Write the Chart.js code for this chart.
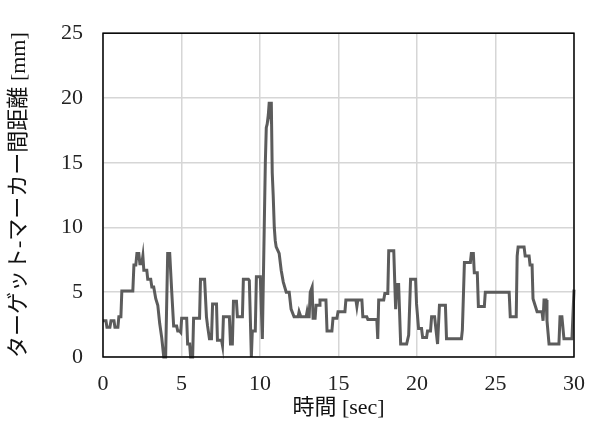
<!DOCTYPE html>
<html>
<head>
<meta charset="utf-8">
<script src="https://cdn.jsdelivr.net/npm/chart.js@4/dist/chart.umd.min.js"></script>
<style>
  html, body { margin: 0; padding: 0; background: #fff; }
  #wrap { width: 599px; height: 423px; }
</style>
</head>
<body>
<div id="wrap"><canvas id="chart" width="599" height="423"></canvas></div>
<script>
// time [sec] and distance [mm], in rows of ten
var times = [
  0, 0.19, 0.25, 0.44, 0.51, 0.70, 0.76, 0.95, 1.01, 1.14,
  1.20, 1.90, 1.97, 2.09, 2.16, 2.28, 2.35, 2.47, 2.54, 2.60,
  2.79, 2.85, 3.04, 3.11, 3.23, 3.36, 3.49, 3.61, 3.74, 3.87,
  3.99, 4.12, 4.25, 4.38, 4.50, 4.69, 4.76, 4.88, 4.95, 5.01,
  5.33, 5.39, 5.52, 5.58, 5.71, 5.77, 6.15, 6.21, 6.47, 6.59,
  6.66, 6.78, 6.91, 6.98, 7.23, 7.29, 7.55, 7.61, 7.67, 8.05,
  8.12, 8.24, 8.31, 8.50, 8.56, 8.88, 8.94, 9.26, 9.32, 9.45,
  9.51, 9.70, 9.77, 10.02, 10.15, 10.27, 10.34, 10.40, 10.46, 10.53,
  10.59, 10.65, 10.72, 10.78, 10.84, 10.91, 10.97, 11.03, 11.22, 11.35,
  11.48, 11.67, 11.86, 11.98, 12.17, 12.43, 12.49, 12.60, 12.94, 13.00,
  13.06, 13.13, 13.20, 13.32, 13.38, 13.51, 13.57, 13.76, 13.82, 14.20,
  14.27, 14.58, 14.65, 14.90, 14.97, 15.41, 15.47, 16.11, 16.17, 16.23,
  16.49, 16.55, 16.80, 16.87, 17.44, 17.50, 17.56, 17.88, 17.95, 18.14,
  18.20, 18.52, 18.58, 18.64, 18.71, 18.83, 18.96, 19.34, 19.47, 19.59,
  19.91, 19.97, 20.10, 20.29, 20.36, 20.61, 20.67, 20.86, 20.93, 21.12,
  21.31, 21.43, 21.81, 21.88, 22.83, 22.89, 23.02, 23.40, 23.46, 23.59,
  23.65, 23.84, 23.91, 24.29, 24.35, 25.87, 25.94, 26.32, 26.38, 26.44,
  26.82, 26.89, 27.14, 27.20, 27.33, 27.39, 27.52, 27.65, 27.96, 28.03,
  28.09, 28.22, 28.28, 28.41, 29.04, 29.11, 29.23, 29.36, 29.87, 30.0
];
var distances = [
  2.8, 2.8, 2.3, 2.3, 2.8, 2.8, 2.3, 2.3, 3.1, 3.1,
  5.1, 5.1, 7.1, 7.1, 8.0, 8.0, 7.2, 7.2, 7.8, 6.7,
  6.7, 6.0, 6.0, 5.4, 5.4, 4.5, 4.0, 2.6, 1.5, 0,
  0, 8.0, 8.0, 5.0, 2.4, 2.4, 2.0, 2.0, 1.9, 3.0,
  3.0, 1.0, 1.0, 0, 0, 3.0, 3.0, 6.0, 6.0, 3.1,
  2.4, 1.4, 1.4, 4.1, 4.1, 1.3, 1.3, 0.9, 3.1, 3.1,
  1.0, 1.0, 4.3, 4.3, 3.1, 3.1, 6.0, 6.0, 5.9, 0,
  2.0, 2.0, 6.2, 6.2, 1.4, 10.0, 15.0, 17.7, 18.0, 18.7,
  19.7, 19.0, 19.7, 14.2, 12.5, 10.0, 9.0, 8.5, 8.0, 6.7,
  5.8, 5.0, 5.0, 3.7, 3.1, 3.1, 3.5, 3.1, 3.1, 3.5,
  3.1, 3.1, 5.0, 5.4, 3.0, 3.0, 4.0, 4.0, 4.4, 4.4,
  2.0, 2.0, 3.0, 3.0, 3.5, 3.5, 4.4, 4.4, 3.9, 4.4,
  4.4, 3.1, 3.1, 2.9, 2.9, 1.4, 4.4, 4.4, 4.9, 4.9,
  8.2, 8.2, 5.9, 3.7, 5.6, 5.6, 1.0, 1.0, 1.7, 6.0,
  6.0, 4.1, 2.2, 2.2, 1.5, 1.5, 2.0, 2.0, 3.1, 3.1,
  1.0, 4.0, 4.0, 1.4, 1.4, 2.1, 7.3, 7.3, 8.0, 8.0,
  6.5, 6.5, 3.9, 3.9, 5.0, 5.0, 3.1, 3.1, 7.8, 8.5,
  8.5, 7.8, 7.8, 7.1, 7.1, 4.5, 4.0, 3.5, 3.5, 2.8,
  4.4, 4.4, 2.8, 1.0, 1.0, 3.1, 3.1, 1.4, 1.4, 5.2
];

var xTitle = '時間 [sec]';
var yTitle = 'ターゲット-マーカー間距離 [mm]';

var points = [];
for (var i = 0; i < times.length; i++) {
  points.push({ x: times[i], y: distances[i] });
}

var fontFamily = "'Liberation Serif', 'Noto Sans CJK JP', serif";

// full black frame round the plot area
var frame = {
  id: 'frame',
  afterDraw: function(chart) {
    var a = chart.chartArea;
    var ctx = chart.ctx;
    ctx.save();
    ctx.strokeStyle = '#000';
    ctx.lineWidth = 1.5;
    ctx.strokeRect(a.left, a.top, a.right - a.left, a.bottom - a.top);
    ctx.restore();
  }
};

var ctx = document.getElementById('chart').getContext('2d');
var chart = new Chart(ctx, {
  type: 'line',
  data: {
    datasets: [{
      data: points,
      borderColor: '#5c5c5c',
      borderWidth: 3,
      pointRadius: 0,
      tension: 0,
      fill: false,
      clip: false
    }]
  },
  options: {
    responsive: false,
    animation: false,
    layout: { padding: { left: 6, right: 23, top: 23, bottom: 2 } },
    plugins: {
      legend: { display: false },
      tooltip: { enabled: false }
    },
    scales: {
      x: {
        type: 'linear',
        min: 0,
        max: 30,
        ticks: { stepSize: 5, color: '#222', padding: 14, font: { family: fontFamily, size: 22 } },
        grid: { color: '#d6d6d6', lineWidth: 1.5, drawTicks: false },
        border: { display: false },
        title: { display: true, text: xTitle, color: '#111', padding: 0, font: { family: fontFamily, size: 22 } },
        afterFit: function(scale) { scale.height = 64; }
      },
      y: {
        min: 0,
        max: 25,
        ticks: { stepSize: 5, color: '#222', padding: 20, font: { family: fontFamily, size: 22 } },
        grid: { color: '#d6d6d6', lineWidth: 1.5, drawTicks: false },
        border: { display: false },
        title: { display: true, text: yTitle, color: '#111', padding: 0, font: { family: fontFamily, size: 22 } },
        afterFit: function(scale) { scale.width = 97; }
      }
    }
  },
  plugins: [frame]
});
</script>
</body>
</html>
